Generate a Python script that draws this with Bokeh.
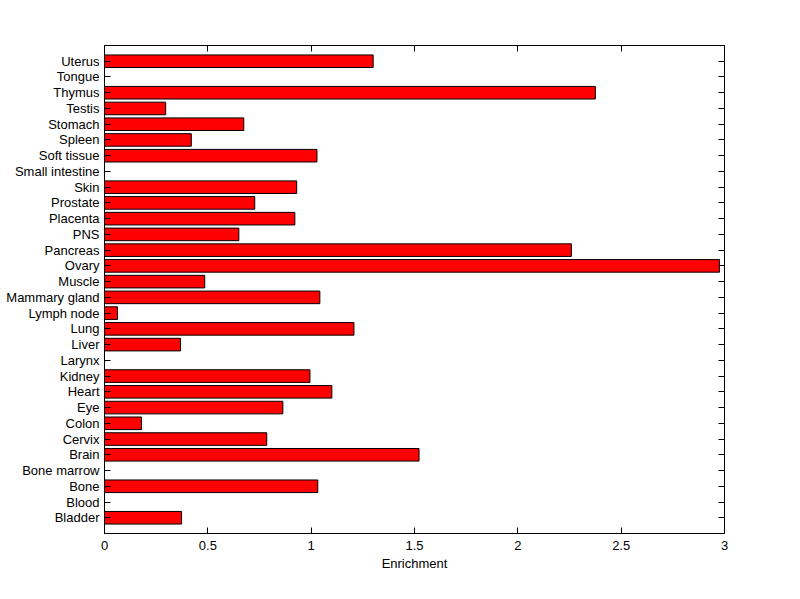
from bokeh.plotting import figure
from bokeh.models import Range1d, LinearAxis, FixedTicker
from bokeh.embed import file_html
from bokeh.resources import INLINE

tissues = ["Bladder", "Blood", "Bone", "Bone marrow", "Brain", "Cervix", "Colon",
           "Eye", "Heart", "Kidney", "Larynx", "Liver", "Lung", "Lymph node",
           "Mammary gland", "Muscle", "Ovary", "Pancreas", "PNS", "Placenta",
           "Prostate", "Skin", "Small intestine", "Soft tissue", "Spleen",
           "Stomach", "Testis", "Thymus", "Tongue", "Uterus"]
enrichment = [0.373, 0.0, 1.032, 0.0, 1.522, 0.785, 0.179,
              0.863, 1.10, 0.994, 0.0, 0.368, 1.207, 0.063,
              1.042, 0.485, 2.976, 2.259, 0.65, 0.921,
              0.727, 0.93, 0.0, 1.028, 0.42,
              0.674, 0.296, 2.375, 0.0, 1.30]
x_ticks = [0, 0.5, 1, 1.5, 2, 2.5, 3]
x_tick_labels = ["0", "0.5", "1", "1.5", "2", "2.5", "3"]

positions = list(range(1, len(tissues) + 1))

FONT = "Liberation Sans"
FS = "13px"

p = figure(width=792, height=591, output_backend="svg", toolbar_location=None,
           x_range=Range1d(0, 3), y_range=Range1d(0, 31),
           min_border_left=104, min_border_right=68, min_border_top=45,
           min_border_bottom=58)
p.grid.visible = False
p.outline_line_color = "black"
p.outline_line_width = 1
p.background_fill_color = "white"
p.border_fill_color = "white"

p.hbar(y=positions, right=enrichment, left=0, height=0.8,
       fill_color="#ff0000", line_color="black", line_width=1)

# bottom axis
xa = p.xaxis[0]
xa.ticker = FixedTicker(ticks=x_ticks)
xa.major_label_overrides = {t: l for t, l in zip(x_ticks, x_tick_labels)}
xa.axis_label = "Enrichment"
# left axis
ya = p.yaxis[0]
ya.ticker = FixedTicker(ticks=positions)
ya.major_label_overrides = {pos: name for pos, name in zip(positions, tissues)}

for ax in (xa, ya):
    ax.major_tick_in = 6
    ax.major_tick_out = 0
    ax.minor_tick_in = 0
    ax.minor_tick_out = 0
    ax.axis_line_color = "black"
    ax.major_tick_line_color = "black"
    ax.major_label_text_font = FONT
    ax.major_label_text_font_size = FS
    ax.major_label_text_color = "black"
    ax.axis_label_text_font = FONT
    ax.axis_label_text_font_size = FS
    ax.axis_label_text_font_style = "normal"
    ax.axis_label_text_color = "black"
xa.major_label_standoff = 7
xa.axis_label_standoff = 3
ya.major_label_standoff = 5

# top and right box axes with inward ticks, no labels
top = LinearAxis(ticker=FixedTicker(ticks=x_ticks),
                 major_label_overrides={t: "" for t in x_ticks},
                 major_tick_in=6, major_tick_out=0, minor_tick_in=0, minor_tick_out=0,
                 axis_line_color="black", major_label_standoff=0)
right = LinearAxis(ticker=FixedTicker(ticks=positions),
                   major_label_overrides={pos: "" for pos in positions},
                   major_tick_in=6, major_tick_out=0, minor_tick_in=0, minor_tick_out=0,
                   axis_line_color="black", major_label_standoff=0)
p.add_layout(top, "above")
p.add_layout(right, "right")

open("out.html", "w").write(file_html(p, INLINE))
